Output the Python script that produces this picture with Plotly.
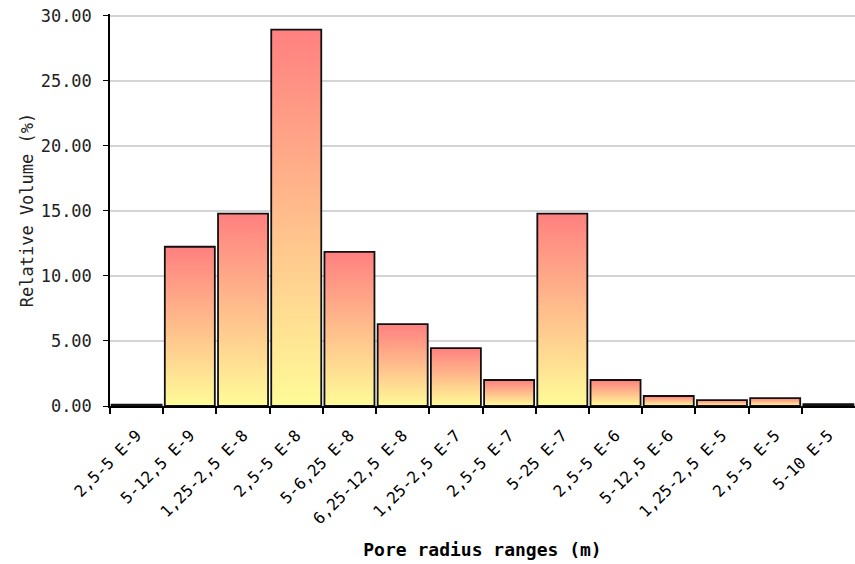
import plotly.graph_objects as go

categories = ["2,5-5 E-9", "5-12,5 E-9", "1,25-2,5 E-8", "2,5-5 E-8", "5-6,25 E-8",
              "6,25-12,5 E-8", "1,25-2,5 E-7", "2,5-5 E-7", "5-25 E-7", "2,5-5 E-6",
              "5-12,5 E-6", "1,25-2,5 E-5", "2,5-5 E-5", "5-10 E-5"]
values = [0.1, 12.25, 14.8, 28.95, 11.85, 6.3, 4.45, 2.0, 14.8, 2.0, 0.77, 0.45, 0.6, 0.15]
y_ticks = [0, 5, 10, 15, 20, 25, 30]

MONO = "DejaVu Sans Mono, monospace"
half = 0.47
fig = go.Figure()
for i, (cat, v) in enumerate(zip(categories, values)):
    fig.add_trace(go.Scatter(
        x=[i - half, i - half, i + half, i + half, i - half],
        y=[0, v, v, 0, 0],
        mode="lines",
        fill="toself",
        fillgradient=dict(type="vertical",
                          colorscale=[[0, "#fffb98"], [1, "#ff8080"]]),
        line=dict(color="#111111", width=1.8),
        name=cat,
        hovertemplate=cat + ": %{y:.2f}<extra></extra>",
        showlegend=False,
    ))

fig.update_layout(
    width=855, height=564,
    margin=dict(l=110, r=0, t=14, b=158),
    plot_bgcolor="white", paper_bgcolor="white",
    font=dict(family=MONO, size=15, color="#222"),
    xaxis=dict(
        automargin=False,
        range=[-0.5, len(categories) - 0.5],
        tickmode="array", tickvals=list(range(len(categories))), ticktext=categories,
        tickangle=-45, ticks="", showgrid=False, zeroline=False,
        showline=True, linecolor="black", linewidth=1.5,
        tickfont=dict(family=MONO, size=16, color="black"),
        ticklabelstandoff=12,
        minor=dict(tickmode="array",
                   tickvals=[i - 0.5 for i in range(len(categories))],
                   ticks="outside", ticklen=6, tickcolor="black", tickwidth=1.5, showgrid=False),
        title=dict(text="<b>Pore radius ranges (m)</b>",
                   font=dict(family=MONO, size=18, color="black"), standoff=16),
    ),
    yaxis=dict(
        automargin=False,
        range=[0, 30.15], tickmode="array", tickvals=y_ticks,
        ticktext=[f"{t:.2f}" for t in y_ticks],
        ticks="outside", ticklen=5, tickcolor="black", tickwidth=1.2,
        ticklabelstandoff=8, ticklabeloverflow="allow",
        showline=True, linecolor="black", linewidth=1.5,
        showgrid=True, gridcolor="#d4d4d4", gridwidth=2, zeroline=False,
        tickfont=dict(family=MONO, size=17, color="#222"),
        title=dict(text="Relative Volume (%)", font=dict(family=MONO, size=17, color="#222"), standoff=3),
    ),
)

fig.write_html("out.html", config={"displayModeBar": False},
               post_script="document.body.style.margin='0';")
